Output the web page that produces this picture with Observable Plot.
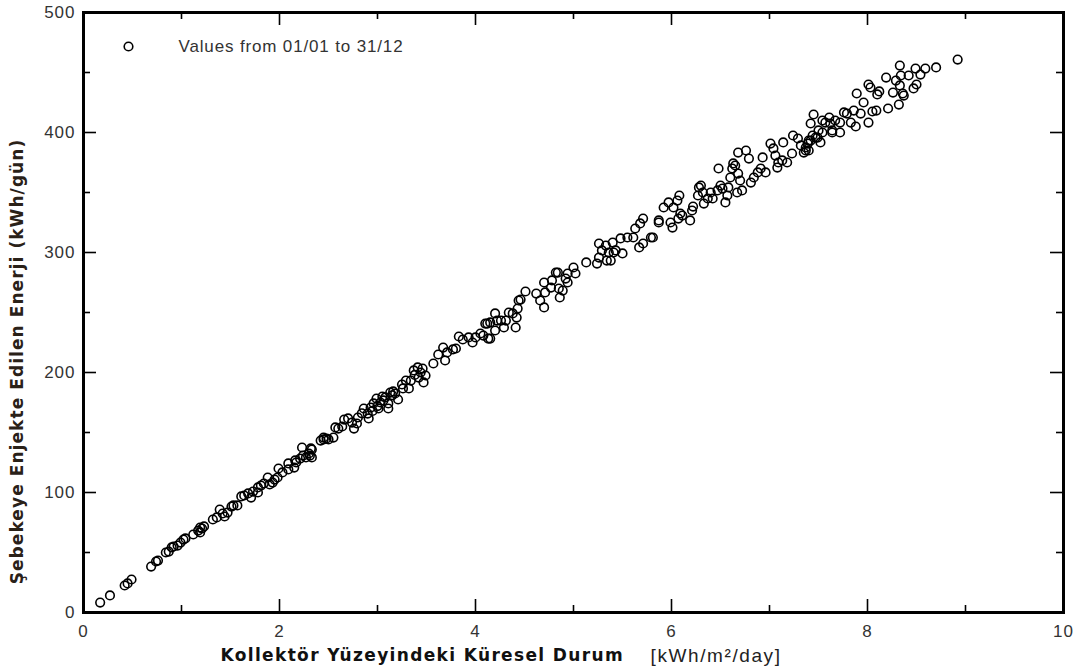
<!DOCTYPE html>
<html>
<head>
<meta charset="utf-8">
<script src="https://cdn.jsdelivr.net/npm/d3@7"></script>
<script src="https://cdn.jsdelivr.net/npm/@observablehq/plot@0.6"></script>
<style>
  html, body { margin: 0; padding: 0; background: white; }
</style>
</head>
<body>
<div id="chart"></div>
<script>
// Global irradiation on collector plane [kWh/m²/day]
const irradiance = [
  0.17,0.27,0.42,0.45,0.49,0.69,0.74,0.76,0.84,0.87,0.90,0.92,0.96,0.99,1.02,1.04,1.12,1.17,1.19,1.21,
  1.23,1.19,1.32,1.36,1.39,1.42,1.44,1.47,1.51,1.53,1.57,1.61,1.64,1.68,1.71,1.73,1.78,1.78,1.81,1.84,
  1.88,1.90,1.93,1.95,1.98,1.99,2.03,2.09,2.09,2.15,2.17,2.21,2.23,2.27,2.30,2.33,2.33,2.42,2.45,2.48,
  2.16,2.24,2.32,2.31,2.45,2.50,2.55,2.57,2.60,2.64,2.66,2.70,2.74,2.79,2.76,2.80,2.86,2.90,2.91,2.93,
  2.96,2.99,3.01,3.03,3.06,3.08,3.11,3.11,3.13,3.16,3.18,3.21,3.26,3.29,3.32,3.34,3.37,3.41,3.42,3.46,
  3.49,3.47,3.57,3.62,3.67,3.69,3.71,3.77,3.80,3.83,3.87,3.93,3.97,4.00,4.05,4.08,4.13,4.10,4.15,4.20,
  4.22,3.00,3.05,3.15,3.38,3.44,2.95,2.84,3.25,
  4.12,4.15,4.20,4.26,4.29,4.31,4.34,4.38,4.41,4.42,4.43,4.44,4.46,4.51,4.62,4.66,4.70,4.70,4.71,4.77,
  4.78,4.82,4.84,4.85,4.86,4.89,4.92,4.94,4.94,5.00,5.02,5.13,5.24,5.26,5.26,5.29,5.33,5.34,5.36,5.38,
  5.40,5.41,5.43,5.50,5.48,5.55,5.61,5.63,5.67,5.68,5.71,5.79,5.87,
  5.71,5.81,5.87,5.92,5.97,5.99,6.01,6.02,6.06,6.07,6.08,6.09,6.11,6.19,6.21,6.22,6.27,6.28,6.30,6.32,
  6.33,6.37,6.40,6.42,6.47,6.48,6.50,6.52,6.55,6.57,6.58,6.60,6.62,6.63,6.65,6.67,6.68,6.68,6.70,6.72,
  6.76,6.79,6.81,6.84,6.88,6.91,6.93,6.96,7.01,7.04,7.06,7.08,7.09,7.13,7.14,7.18,7.23,7.24,7.29,7.32,
  7.37,7.39,7.42,7.44,7.49,7.52,7.54,7.64,
  8.92,8.70,8.59,8.49,8.33,8.54,8.42,8.34,8.19,8.29,8.33,8.50,8.47,8.01,8.03,8.12,8.10,8.26,8.36,8.37,
  7.89,8.32,7.96,8.21,8.09,8.05,7.86,7.76,7.79,7.93,8.01,7.83,7.88,7.72,7.61,7.67,7.62,7.57,7.54,7.45,
  7.42,7.50,7.64,7.72,7.47,7.40,7.37,7.40,7.35
];
// Energy injected into grid [kWh/gün]
const energy = [
  8.3,14.2,22.5,24.2,27.5,38.3,42.5,43.3,50,50.8,54.2,55,55.8,58.3,60.8,61.7,65,68.3,70.8,70,
  71.7,66.7,77.5,79.2,85.8,82.5,80,83.3,88.3,89.2,89.2,96.7,97.5,99.2,95.8,100.8,100,104.2,105.8,107.5,
  112.5,106.7,108.3,110.8,112.5,120,116.7,124.2,119.2,120.8,125,128.3,137.5,129.2,132.5,135.8,129.2,143.3,144.2,145,
  126.7,130.8,136.7,130.8,145.8,144.2,145.8,154.2,153.3,155,160.8,161.7,158.3,157.5,153.3,162.5,170,165.8,161.7,170.8,
  174.2,178.3,170,175,176.7,179.2,174.2,170,183.3,184.2,182.5,177.5,186.7,193.3,186.7,193.3,201.7,204.2,195.8,203.3,
  197.5,191.7,207.5,215,220.8,210,216.7,219.2,220,230,227.5,229.2,225,229.2,232.5,230.8,228.3,240.8,241.7,249.2,
  243.3,172,180,181,198,200,168,166,190,
  240.8,228.3,235,243.3,237.5,243.3,250,249.2,237.5,245.8,253.3,260,260.8,267.5,265.8,260,254.2,275,266.7,270.8,
  276.7,283.3,283.3,270,262.5,268.3,278.3,275,282.5,287.5,282.5,291.7,290.8,295.8,307.5,301.7,305.8,293.3,300,293.3,
  308.3,300,301.7,299.2,311.7,312.5,312.5,320,304.2,324.2,307.5,312.5,325,
  328.3,312.5,326.7,337.5,341.7,325,320.8,337.5,343.3,328.3,347.5,332.5,330.8,326.7,335,338.3,347.5,354.2,355.8,350,
  340.8,345,350,345,351.7,370,355.8,353.3,341.7,347.5,354.2,362.5,370,374.2,372.5,350,383.3,365.8,360,351.7,
  385,378.3,358.3,362.5,366.7,370,379.2,366.7,390.8,386.7,380.8,370.8,375,376.7,391.7,375,382.5,397.5,395,389.2,
  385,390.8,393.3,397.5,395.8,391.7,400,400,
  460.8,454.2,453.3,453.3,455.8,448.3,447.5,447.5,445.8,443.3,439.2,440,436.7,440,437.5,434.2,431.7,433.3,432.5,430.8,
  432.5,423.3,425,420,418.3,417.5,418.3,416.7,415.8,415.8,408.3,408.3,405,408.3,412.5,410,407.5,408.3,410,415,
  407.5,401.7,401.7,400,395.8,393.3,387.5,385,383.3
];
const xMajor = [0, 2, 4, 6, 8, 10];
const xMinor = [1, 3, 5, 7, 9];
const yMajor = [0, 100, 200, 300, 400, 500];
const yMinor = [50, 150, 250, 350, 450];
const legendLabel = "Values from 01/01 to 31/12";
const xTitle = "Kollektör Yüzeyindeki Küresel Durum";
const xUnit = "[kWh/m²/day]";
const yTitle = "Şebekeye Enjekte Edilen Enerji (kWh/gün)";

const points = irradiance.map((x, i) => ({x, y: energy[i]}));

const W = 1081, H = 670, mL = 83, mR = 18, mT = 12, mB = 58;
const xDomain = [0, 10], yDomain = [0, 500];
const frameW = W - mL - mR, frameH = H - mT - mB;
// tick lengths in pixels, converted to data units of the perpendicular scale
const majorPx = 13, minorPx = 7;
const pxToY = (px) => px * (yDomain[1] - yDomain[0]) / frameH;
const pxToX = (px) => px * (xDomain[1] - xDomain[0]) / frameW;
const tk = {stroke: "black", strokeWidth: 1.6};

function xTickRules(values, px) {
  const l = pxToY(px);
  return [
    Plot.ruleX(values, {...tk, x: (d) => d, y1: yDomain[0], y2: yDomain[0] + l}),
    Plot.ruleX(values, {...tk, x: (d) => d, y1: yDomain[1], y2: yDomain[1] - l})
  ];
}
function yTickRules(values, px) {
  const l = pxToX(px);
  return [
    Plot.ruleY(values, {...tk, y: (d) => d, x1: xDomain[0], x2: xDomain[0] + l}),
    Plot.ruleY(values, {...tk, y: (d) => d, x1: xDomain[1], x2: xDomain[1] - l})
  ];
}

const chart = Plot.plot({
  width: W,
  height: H,
  marginLeft: mL,
  marginRight: mR,
  marginTop: mT,
  marginBottom: mB,
  x: {domain: xDomain},
  y: {domain: yDomain},
  style: {fontFamily: "'Liberation Sans', Arial, sans-serif", fontSize: "17px", color: "#333", background: "white"},
  marks: [
    Plot.axisX({ticks: xMajor, tickSize: 0, tickPadding: 12, label: null, fontSize: 17, fill: "#333", className: "ticklab"}),
    Plot.axisY({ticks: yMajor, tickSize: 0, tickPadding: 8, label: null, fontSize: 17, fill: "#333", className: "ticklab"}),
    ...xTickRules(xMajor, majorPx),
    ...xTickRules(xMinor, minorPx),
    ...yTickRules(yMajor, majorPx),
    ...yTickRules(yMinor, minorPx),
    Plot.dot(points, {x: "x", y: "y", r: 4.3, stroke: "black", strokeWidth: 1.6, fill: "none"}),
    Plot.frame({stroke: "black", strokeWidth: 3}),
    // legend
    Plot.dot([legendLabel], {frameAnchor: "top-left", dx: 45, dy: 34, r: 4.3, stroke: "black", strokeWidth: 1.6, fill: "none"}),
    Plot.text([legendLabel], {frameAnchor: "top-left", dx: 95, dy: 34, textAnchor: "start", lineAnchor: "middle", fontSize: 17, fill: "#333", className: "legendlab"}),
    // axis titles
    Plot.text([xTitle], {frameAnchor: "bottom-left", dx: 137, dy: 43, textAnchor: "start", lineAnchor: "middle", fontFamily: "'DejaVu Sans', Verdana, sans-serif", fontWeight: "bold", fontSize: 17, fill: "#111", className: "xtitle"}),
    Plot.text([xUnit], {frameAnchor: "bottom-left", dx: 567, dy: 43, textAnchor: "start", lineAnchor: "middle", fontSize: 19, fill: "#222", className: "xunit"}),
    Plot.text([yTitle], {frameAnchor: "left", dx: -66, dy: 49, rotate: -90, textAnchor: "middle", lineAnchor: "middle", fontFamily: "'DejaVu Sans', Verdana, sans-serif", fontWeight: "bold", fontSize: 17, fill: "#2a2118", className: "ytitle"})
  ]
});

const svg = d3.select(chart);
// the reference's lettering is slightly wider than these fonts: add tracking
svg.selectAll(".ticklab text").style("letter-spacing", "1px");
svg.selectAll(".legendlab text").style("letter-spacing", "0.85px");
svg.selectAll(".xtitle text").style("letter-spacing", "1.35px");
svg.selectAll(".xunit text").style("letter-spacing", "1.6px");
svg.selectAll(".ytitle text").style("letter-spacing", "1.07px");

document.getElementById("chart").appendChild(chart);
</script>
</body>
</html>
